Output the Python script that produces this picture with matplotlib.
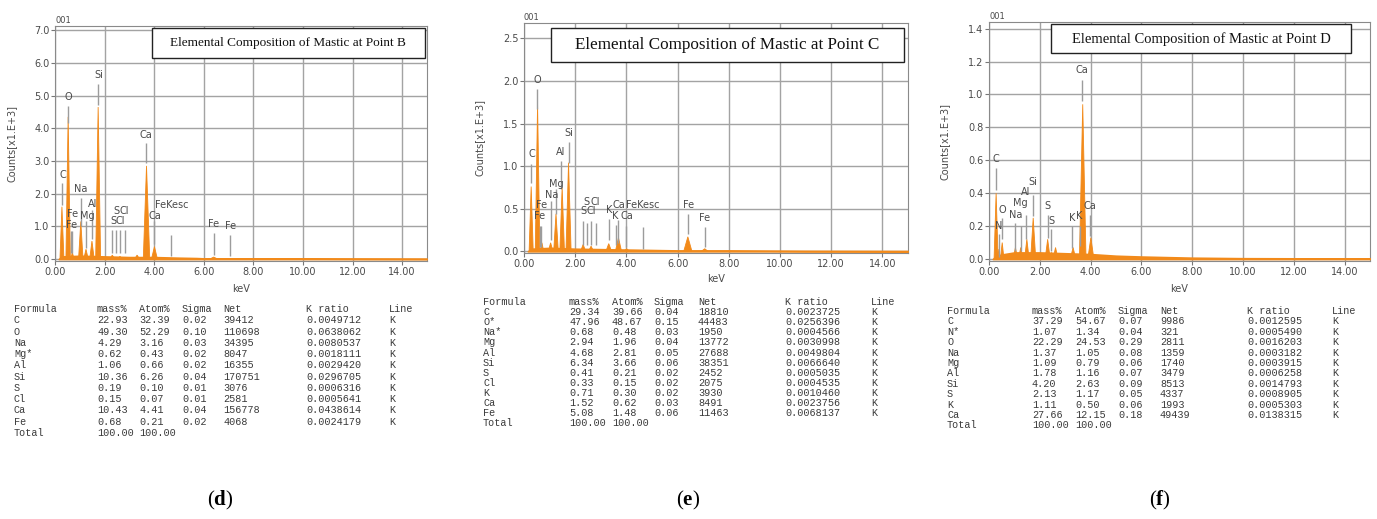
import numpy as np
import matplotlib.pyplot as plt
from matplotlib.patches import Rectangle

plt.rcParams['mathtext.fontset'] = 'custom'
plt.rcParams['mathtext.rm'] = 'Liberation Serif'
plt.rcParams['mathtext.bf'] = 'Liberation Serif:bold'

W, H = 1377, 519

# ---------------- spectrum B (d) ----------------
b_peak_kev = [0.28, 0.53, 0.70, 1.04, 1.25, 1.49, 1.74, 2.31, 2.62, 3.31, 3.69, 4.01, 6.40]
b_peak_cnt = [1.60, 4.35, 0.20, 1.15, 0.30, 0.55, 4.65, 0.12, 0.08, 0.12, 2.85, 0.38, 0.06]
b_peak_wid = [0.08, 0.09, 0.07, 0.09, 0.09, 0.09, 0.10, 0.10, 0.10, 0.10, 0.13, 0.12, 0.16]
b_bg_kev = [0.15, 0.3, 1.0, 2.0, 3.0, 4.0, 5.0, 5.7, 6.0, 9.0, 11.5, 15.0]
b_bg_cnt = [0.0, 0.08, 0.10, 0.08, 0.06, 0.06, 0.04, 0.03, 0.02, 0.015, 0.01, 0.005]
b_mark_kev = [0.30, 0.54, 0.66, 0.70, 1.05, 1.25, 1.48, 1.75, 2.31, 2.46, 2.62, 2.82, 3.67, 4.01, 4.66, 6.40, 7.06]
b_mark_lo = [1.66, 4.15, 0.18, 0.18, 1.00, 0.34, 0.60, 4.71, 0.18, 0.18, 0.18, 0.18, 2.93, 0.45, 0.10, 0.13, 0.10]
b_mark_hi = [2.32, 4.68, 0.85, 0.85, 1.88, 1.15, 1.50, 5.35, 0.90, 0.90, 0.90, 0.90, 3.54, 1.15, 0.74, 0.79, 0.74]
b_lab_txt = ['C', 'O', 'Si', 'Na', 'Mg', 'Al', 'Fe', 'Fe', 'S', 'Cl', 'S', 'Cl', 'Ca', 'Ca', 'FeKesc', 'Fe', 'Fe']
b_lab_kev = [0.30, 0.54, 1.75, 1.05, 1.30, 1.50, 0.72, 0.66, 2.48, 2.80, 2.35, 2.62, 3.67, 4.01, 4.70, 6.40, 7.06]
b_lab_y = [2.57, 4.96, 5.63, 2.15, 1.33, 1.69, 1.39, 1.03, 1.47, 1.47, 1.15, 1.15, 3.81, 1.32, 1.64, 1.07, 1.02]

# ---------------- spectrum C (e) ----------------
c_peak_kev = [0.28, 0.53, 0.70, 1.04, 1.25, 1.49, 1.74, 2.31, 2.62, 3.31, 3.69, 4.01, 6.40, 7.06]
c_peak_cnt = [0.76, 1.73, 0.10, 0.10, 0.44, 0.75, 1.04, 0.08, 0.06, 0.09, 0.16, 0.03, 0.17, 0.03]
c_peak_wid = [0.08, 0.09, 0.07, 0.09, 0.09, 0.09, 0.10, 0.10, 0.10, 0.11, 0.12, 0.11, 0.16, 0.13]
c_bg_kev = [0.15, 0.3, 1.0, 2.0, 3.0, 4.0, 5.0, 6.0, 8.0, 11.0, 15.0]
c_bg_cnt = [0.0, 0.03, 0.04, 0.03, 0.025, 0.02, 0.015, 0.01, 0.01, 0.005, 0.003]
c_mark_kev = [0.26, 0.51, 0.62, 0.68, 1.07, 1.26, 1.46, 1.75, 2.31, 2.46, 2.62, 2.80, 3.31, 3.58, 3.66, 4.00, 4.65, 6.41, 7.07]
c_mark_lo = [0.80, 1.67, 0.05, 0.05, 0.13, 0.44, 0.73, 1.04, 0.07, 0.07, 0.07, 0.07, 0.13, 0.07, 0.10, 0.05, 0.03, 0.20, 0.05]
c_mark_hi = [1.03, 1.90, 0.30, 0.30, 0.59, 0.73, 1.06, 1.28, 0.36, 0.33, 0.36, 0.33, 0.38, 0.31, 0.37, 0.30, 0.28, 0.44, 0.28]
c_lab_txt = ['C', 'O', 'Si', 'Al', 'Mg', 'Na', 'Fe', 'Fe', 'S', 'Cl', 'S', 'Cl', 'K', 'Ca', 'K', 'Ca', 'FeKesc', 'Fe', 'Fe']
c_lab_kev = [0.29, 0.51, 1.75, 1.43, 1.26, 1.07, 0.68, 0.62, 2.45, 2.78, 2.33, 2.63, 3.31, 3.69, 3.58, 4.02, 4.65, 6.41, 7.07]
c_lab_y = [1.14, 2.01, 1.39, 1.17, 0.79, 0.66, 0.54, 0.41, 0.58, 0.58, 0.47, 0.47, 0.48, 0.54, 0.41, 0.41, 0.54, 0.54, 0.39]

# ---------------- spectrum D (f) ----------------
d_peak_kev = [0.28, 0.39, 0.52, 1.04, 1.25, 1.49, 1.74, 2.31, 2.46, 2.62, 3.31, 3.69, 4.01]
d_peak_cnt = [0.40, 0.06, 0.10, 0.07, 0.07, 0.12, 0.25, 0.12, 0.04, 0.07, 0.07, 0.94, 0.13]
d_peak_wid = [0.08, 0.05, 0.07, 0.09, 0.09, 0.09, 0.10, 0.10, 0.08, 0.10, 0.11, 0.13, 0.12]
d_bg_kev = [0.15, 0.3, 0.6, 1.0, 2.0, 3.0, 4.0, 5.0, 6.0, 8.0, 10.0, 15.0]
d_bg_cnt = [0.0, 0.02, 0.03, 0.04, 0.04, 0.035, 0.03, 0.02, 0.015, 0.008, 0.005, 0.003]
d_mark_kev = [0.26, 0.38, 0.50, 1.04, 1.25, 1.45, 1.74, 2.31, 2.45, 3.28, 3.57, 3.66, 3.97]
d_mark_lo = [0.42, 0.01, 0.12, 0.05, 0.05, 0.12, 0.26, 0.13, 0.05, 0.07, 0.08, 0.96, 0.14]
d_mark_hi = [0.55, 0.15, 0.25, 0.22, 0.20, 0.27, 0.39, 0.27, 0.18, 0.20, 0.20, 1.09, 0.27]
d_lab_txt = ['C', 'N', 'O', 'Na', 'Mg', 'Al', 'Si', 'S', 'S', 'K', 'K', 'Ca', 'Ca']
d_lab_kev = [0.28, 0.38, 0.52, 1.04, 1.25, 1.45, 1.74, 2.31, 2.45, 3.28, 3.57, 3.66, 3.97]
d_lab_y = [0.61, 0.20, 0.30, 0.27, 0.34, 0.41, 0.47, 0.32, 0.23, 0.25, 0.26, 1.15, 0.32]

# ---------------- quantification tables ----------------
tab_head = ['Formula', 'mass%', 'Atom%', 'Sigma', 'Net', 'K ratio', 'Line']

b_formula = ['C', 'O', 'Na', 'Mg*', 'Al', 'Si', 'S', 'Cl', 'Ca', 'Fe']
b_mass = [22.93, 49.30, 4.29, 0.62, 1.06, 10.36, 0.19, 0.15, 10.43, 0.68]
b_atom = [32.39, 52.29, 3.16, 0.43, 0.66, 6.26, 0.10, 0.07, 4.41, 0.21]
b_sigma = [0.02, 0.10, 0.03, 0.02, 0.02, 0.04, 0.01, 0.01, 0.04, 0.02]
b_net = [39412, 110698, 34395, 8047, 16355, 170751, 3076, 2581, 156778, 4068]
b_kratio = [0.0049712, 0.0638062, 0.0080537, 0.0018111, 0.0029420, 0.0296705, 0.0006316, 0.0005641, 0.0438614, 0.0024179]

c_formula = ['C', 'O*', 'Na*', 'Mg', 'Al', 'Si', 'S', 'Cl', 'K', 'Ca', 'Fe']
c_mass = [29.34, 47.96, 0.68, 2.94, 4.68, 6.34, 0.41, 0.33, 0.71, 1.52, 5.08]
c_atom = [39.66, 48.67, 0.48, 1.96, 2.81, 3.66, 0.21, 0.15, 0.30, 0.62, 1.48]
c_sigma = [0.04, 0.15, 0.03, 0.04, 0.05, 0.06, 0.02, 0.02, 0.02, 0.03, 0.06]
c_net = [18810, 44483, 1950, 13772, 27688, 38351, 2452, 2075, 3930, 8491, 11463]
c_kratio = [0.0023725, 0.0256396, 0.0004566, 0.0030998, 0.0049804, 0.0066640, 0.0005035, 0.0004535, 0.0010460, 0.0023756, 0.0068137]

d_formula = ['C', 'N*', 'O', 'Na', 'Mg', 'Al', 'Si', 'S', 'K', 'Ca']
d_mass = [37.29, 1.07, 22.29, 1.37, 1.09, 1.78, 4.20, 2.13, 1.11, 27.66]
d_atom = [54.67, 1.34, 24.53, 1.05, 0.79, 1.16, 2.63, 1.17, 0.50, 12.15]
d_sigma = [0.07, 0.04, 0.29, 0.08, 0.06, 0.07, 0.09, 0.05, 0.06, 0.18]
d_net = [9986, 321, 2811, 1359, 1740, 3479, 8513, 4337, 1993, 49439]
d_kratio = [0.0012595, 0.0005490, 0.0016203, 0.0003182, 0.0003915, 0.0006258, 0.0014793, 0.0008905, 0.0005303, 0.0138315]

ORANGE = '#f28a1a'
GRID = '#a3a3a3'
MARK = '#9c9c9c'
TXT = '#4a4a4a'


def px_axes(l, t, r, b):
    return [l / W, 1 - b / H, (r - l) / W, (b - t) / H]


def draw_spectrum(ax, pk, pc, pw, bk, bc, mk, mlo, mhi, lt, lk, ly,
                  ymax, ylo, ystep, title, box, title_fs):
    ax.fill_between(bk, 0, bc, color=ORANGE, lw=1.2, zorder=3)
    for c, h, w in zip(pk, pc, pw):
        ax.fill([c - w, c, c + w], [0, h, 0], color=ORANGE, lw=0.6, zorder=3)
    ax.vlines(mk, mlo, mhi, color=MARK, lw=1.0, zorder=4)
    for t, x, y in zip(lt, lk, ly):
        ax.text(x, y, t, ha='center', va='center', fontsize=7, color=TXT, zorder=5)

    ax.set_xlim(0, 15)
    ax.set_ylim(ylo, ymax)
    ax.set_xticks(np.arange(0, 15, 2))
    ax.set_yticks(np.arange(0, ymax, ystep))
    ax.xaxis.set_major_formatter(plt.FormatStrFormatter('%.2f'))
    ax.yaxis.set_major_formatter(plt.FormatStrFormatter('%.1f'))
    ax.grid(True, color=GRID, lw=1.0, zorder=1)
    ax.set_axisbelow(True)
    ax.tick_params(length=3, width=0.8, color='#777777', labelsize=7, labelcolor=TXT, pad=1)
    for s in ax.spines.values():
        s.set_color('#8a8a8a')
    ax.set_xlabel('keV', fontsize=7, color=TXT)
    ax.set_ylabel('Counts[x1.E+3]', fontsize=7, color=TXT)
    ax.text(0.0, 1.005, '001', transform=ax.transAxes, ha='left', va='bottom', fontsize=6, color=TXT)

    x0, y0, x1, y1 = box
    ax.add_patch(Rectangle((x0, y0), x1 - x0, y1 - y0, transform=ax.transAxes,
                           facecolor='white', edgecolor='#222222', lw=1.0, zorder=6))
    ax.text((x0 + x1) / 2, (y0 + y1) / 2, title, transform=ax.transAxes, ha='center', va='center',
            fontsize=title_fs, family='Liberation Serif', color='#111111', zorder=7)


def draw_table(fig, cols_px, y_top, dy, formula, mass, atom, sigma, net, kratio):
    rows = [tab_head]
    for f, m, a, s, n, k in zip(formula, mass, atom, sigma, net, kratio):
        rows.append([f, '%.2f' % m, '%.2f' % a, '%.2f' % s, '%d' % n, '%.7f' % k, 'K'])
    rows.append(['Total', '100.00', '100.00', '', '', '', ''])
    for i, row in enumerate(rows):
        y = y_top + i * dy
        for x, txt in zip(cols_px, row):
            if txt:
                fig.text(x / W, 1 - y / H, txt, ha='left', va='center', fontsize=7.3,
                         family='Liberation Mono', color='#3a3a3a')


fig = plt.figure(figsize=(W / 100, H / 100), dpi=100)

ax1 = fig.add_axes(px_axes(55, 26, 427, 261))
draw_spectrum(ax1, b_peak_kev, b_peak_cnt, b_peak_wid, b_bg_kev, b_bg_cnt,
              b_mark_kev, b_mark_lo, b_mark_hi, b_lab_txt, b_lab_kev, b_lab_y,
              7.13, -0.06, 1.0, 'Elemental Composition of Mastic at Point B',
              (0.26, 0.863, 0.995, 0.99), 9.5)
ax1.yaxis.set_label_coords(-38 / 372, 0.5)
ax1.xaxis.set_label_coords(0.5, -23 / 235)

ax2 = fig.add_axes(px_axes(524, 23, 908, 253))
draw_spectrum(ax2, c_peak_kev, c_peak_cnt, c_peak_wid, c_bg_kev, c_bg_cnt,
              c_mark_kev, c_mark_lo, c_mark_hi, c_lab_txt, c_lab_kev, c_lab_y,
              2.68, -0.02, 0.5, 'Elemental Composition of Mastic at Point C',
              (0.07, 0.83, 0.99, 0.98), 12.3)
ax2.yaxis.set_label_coords(-39 / 384, 0.5)
ax2.xaxis.set_label_coords(0.5, -21 / 230)

ax3 = fig.add_axes(px_axes(989, 22, 1370, 261))
draw_spectrum(ax3, d_peak_kev, d_peak_cnt, d_peak_wid, d_bg_kev, d_bg_cnt,
              d_mark_kev, d_mark_lo, d_mark_hi, d_lab_txt, d_lab_kev, d_lab_y,
              1.44, -0.012, 0.2, 'Elemental Composition of Mastic at Point D',
              (0.163, 0.87, 0.95, 0.99), 10.5)
ax3.yaxis.set_label_coords(-39 / 381, 0.5)
ax3.xaxis.set_label_coords(0.5, -23 / 239)

draw_table(fig, [14, 97, 139, 182, 223, 306, 389], 309, 11.27,
           b_formula, b_mass, b_atom, b_sigma, b_net, b_kratio)
draw_table(fig, [483, 569, 612, 654, 698, 785, 871], 302, 10.1,
           c_formula, c_mass, c_atom, c_sigma, c_net, c_kratio)
draw_table(fig, [947, 1032, 1075, 1118, 1160, 1247, 1332], 311, 10.4,
           d_formula, d_mass, d_atom, d_sigma, d_net, d_kratio)

for x, letter in [(220, 'd'), (688, 'e'), (1160, 'f')]:
    fig.text(x / W, 1 - 500 / H, '(' + r'$\mathbf{' + letter + '}$' + ')', ha='center', va='center',
             fontsize=15, family='Liberation Serif')

fig.savefig('out.png', dpi=100)
